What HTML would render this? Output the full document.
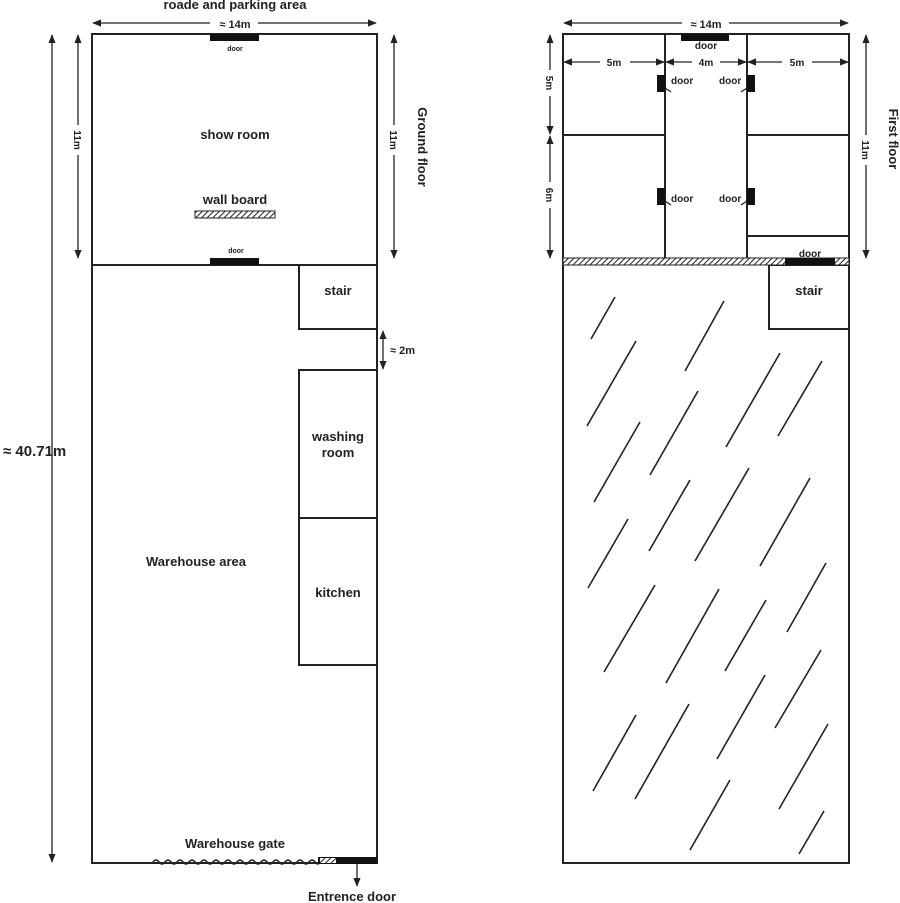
<!DOCTYPE html>
<html><head><meta charset="utf-8"><style>
html,body{margin:0;padding:0;background:#fff;width:900px;height:903px;overflow:hidden}
text{font-family:"Liberation Sans",Arial,sans-serif;font-weight:bold;fill:#222}
</style></head><body>
<svg width="900" height="903" viewBox="0 0 900 903" xmlns="http://www.w3.org/2000/svg">
<defs>
<marker id="a" viewBox="0 0 10 10" refX="9" refY="5" markerWidth="7" markerHeight="7" orient="auto-start-reverse"><path d="M0,1 L10,5 L0,9 Z" fill="#222"/></marker>
<pattern id="h" width="4" height="4" patternUnits="userSpaceOnUse" patternTransform="rotate(45)"><rect width="4" height="4" fill="#fff"/><line x1="0" y1="0" x2="0" y2="4" stroke="#222" stroke-width="2"/></pattern>
</defs>
<g stroke="#222" stroke-width="2" fill="none">
<!-- left building -->
<rect x="92" y="34" width="285" height="829"/>
<line x1="92" y1="265" x2="377" y2="265"/>
<rect x="299" y="265" width="78" height="64"/>
<rect x="299" y="370" width="78" height="148"/>
<rect x="299" y="518" width="78" height="147"/>
<!-- right building -->
<rect x="563" y="34" width="286" height="829"/>
<line x1="665" y1="34" x2="665" y2="258"/>
<line x1="747" y1="34" x2="747" y2="258"/>
<line x1="563" y1="135" x2="665" y2="135"/>
<line x1="747" y1="135" x2="849" y2="135"/>
<line x1="747" y1="236" x2="849" y2="236"/>
<rect x="769" y="265" width="80" height="64"/>
</g>
<!-- doors/left -->
<rect x="210" y="34" width="49" height="7" fill="#111"/>
<rect x="210" y="258" width="49" height="7" fill="#111"/>
<rect x="195" y="211" width="80" height="7" fill="url(#h)" stroke="#222" stroke-width="1"/>
<!-- right doors -->
<rect x="681" y="34" width="48" height="7" fill="#111"/>
<rect x="563" y="258" width="286" height="7" fill="url(#h)" stroke="#222" stroke-width="1"/>
<rect x="785" y="258" width="50" height="7" fill="#111"/>
<g fill="#111">
<rect x="657" y="75" width="8" height="17"/><rect x="657" y="188" width="8" height="17"/>
<rect x="747" y="75" width="8" height="17"/><rect x="747" y="188" width="8" height="17"/>
</g>
<g stroke="#222" stroke-width="1.2">
<line x1="665" y1="88" x2="671" y2="92"/><line x1="665" y1="201" x2="671" y2="205"/>
<line x1="747" y1="88" x2="741" y2="92"/><line x1="747" y1="201" x2="741" y2="205"/>
</g>
<!-- gate -->
<path d="M153,862 q3,-4 6,0 t6,0 t6,0 t6,0 t6,0 t6,0 t6,0 t6,0 t6,0 t6,0 t6,0 t6,0 t6,0 t6,0 t6,0 t6,0 t6,0 t6,0 t6,0 t6,0 t6,0 t6,0 t6,0 t6,0 t6,0 t6,0 t6,0 t5,0" stroke="#222" stroke-width="1.5" fill="none"/>
<rect x="318" y="857" width="59" height="7" fill="#111"/>
<rect x="320" y="858" width="16" height="5" fill="url(#h)"/>
<line x1="92" y1="863" x2="153" y2="863" stroke="#222" stroke-width="2"/>
<!-- dims -->
<g stroke="#222" stroke-width="1.3" marker-start="url(#a)" marker-end="url(#a)">
<line x1="93" y1="23" x2="210" y2="23" marker-start="url(#a)" marker-end="none"/>
<line x1="258" y1="23" x2="376" y2="23" marker-start="none"/>
<line x1="52" y1="35" x2="52" y2="862"/>
<line x1="78" y1="35" x2="78" y2="258"/>
<line x1="394" y1="35" x2="394" y2="258"/>
<line x1="383" y1="331" x2="383" y2="369"/>
<line x1="357" y1="864" x2="357" y2="886" marker-start="none"/>
<line x1="564" y1="23" x2="682" y2="23" marker-start="url(#a)" marker-end="none"/>
<line x1="729" y1="23" x2="848" y2="23" marker-start="none"/>
<line x1="866" y1="35" x2="866" y2="258"/>
<line x1="550" y1="35" x2="550" y2="134"/>
<line x1="550" y1="136" x2="550" y2="258"/>
<line x1="564" y1="62" x2="664" y2="62"/>
<line x1="666" y1="62" x2="746" y2="62"/>
<line x1="748" y1="62" x2="848" y2="62"/>
</g>
<!-- white label backgrounds on dim lines -->
<g fill="#fff">
<rect x="40" y="120" width="30" height="0"/>
<rect x="72" y="125" width="12" height="30"/><rect x="388" y="125" width="12" height="30"/>
<rect x="544" y="70" width="12" height="26"/><rect x="544" y="182" width="12" height="26"/>
<rect x="860" y="135" width="12" height="30"/>
<rect x="600" y="56" width="30" height="12"/><rect x="692" y="56" width="28" height="12"/><rect x="782" y="56" width="30" height="12"/>
</g>
<!-- horizontal wide arrows hidden gap for labels -->
<rect x="212" y="17" width="46" height="12" fill="#fff"/>
<rect x="684" y="17" width="45" height="12" fill="#fff"/>
<!-- diagonals -->
<g stroke="#222" stroke-width="1.6">
<line x1="615" y1="297" x2="591" y2="339"/><line x1="724" y1="301" x2="685" y2="371"/>
<line x1="636" y1="341" x2="587" y2="426"/><line x1="780" y1="353" x2="726" y2="447"/>
<line x1="822" y1="361" x2="778" y2="436"/><line x1="698" y1="391" x2="650" y2="475"/>
<line x1="640" y1="422" x2="594" y2="502"/><line x1="749" y1="468" x2="695" y2="561"/>
<line x1="810" y1="478" x2="760" y2="566"/><line x1="690" y1="480" x2="649" y2="551"/>
<line x1="628" y1="519" x2="588" y2="588"/><line x1="826" y1="563" x2="787" y2="632"/>
<line x1="655" y1="585" x2="604" y2="672"/><line x1="719" y1="589" x2="666" y2="683"/>
<line x1="766" y1="600" x2="725" y2="671"/><line x1="821" y1="650" x2="775" y2="728"/>
<line x1="765" y1="675" x2="717" y2="759"/><line x1="636" y1="715" x2="593" y2="791"/>
<line x1="689" y1="704" x2="635" y2="799"/><line x1="828" y1="724" x2="779" y2="809"/>
<line x1="730" y1="780" x2="690" y2="850"/><line x1="824" y1="811" x2="799" y2="854"/>
</g>
<!-- text -->
<text x="235" y="9" font-size="13" text-anchor="middle">roade and parking area</text>
<text x="235" y="28" font-size="11" text-anchor="middle">≈ 14m</text>
<text x="706" y="28" font-size="11" text-anchor="middle">≈ 14m</text>
<text x="235" y="51" font-size="7" text-anchor="middle">door</text>
<text x="236" y="253" font-size="7" text-anchor="middle">door</text>
<text x="235" y="139" font-size="13" text-anchor="middle">show room</text>
<text x="235" y="204" font-size="13" text-anchor="middle">wall board</text>
<text x="338" y="295" font-size="13" text-anchor="middle">stair</text>
<text x="809" y="295" font-size="13" text-anchor="middle">stair</text>
<text x="338" y="441" font-size="13" text-anchor="middle">washing</text>
<text x="338" y="457" font-size="13" text-anchor="middle">room</text>
<text x="338" y="597" font-size="13" text-anchor="middle">kitchen</text>
<text x="196" y="566" font-size="13" text-anchor="middle">Warehouse area</text>
<text x="235" y="848" font-size="13" text-anchor="middle">Warehouse gate</text>
<text x="352" y="901" font-size="13" text-anchor="middle">Entrence door</text>
<text x="3" y="456" font-size="15">≈ 40.71m</text>
<text x="390" y="354" font-size="11">≈ 2m</text>
<text x="706" y="49" font-size="10" text-anchor="middle">door</text>
<text x="810" y="257" font-size="10" text-anchor="middle">door</text>
<text x="671" y="84" font-size="10">door</text><text x="719" y="84" font-size="10">door</text>
<text x="671" y="202" font-size="10">door</text><text x="719" y="202" font-size="10">door</text>
<text x="614" y="66" font-size="10" text-anchor="middle">5m</text>
<text x="706" y="66" font-size="10" text-anchor="middle">4m</text>
<text x="797" y="66" font-size="10" text-anchor="middle">5m</text>
<text transform="translate(74,140) rotate(90)" font-size="10" text-anchor="middle">11m</text>
<text transform="translate(390,140) rotate(90)" font-size="10" text-anchor="middle">11m</text>
<text transform="translate(862,150) rotate(90)" font-size="10" text-anchor="middle">11m</text>
<text transform="translate(546,83) rotate(90)" font-size="10" text-anchor="middle">5m</text>
<text transform="translate(546,195) rotate(90)" font-size="10" text-anchor="middle">6m</text>
<text transform="translate(418,147) rotate(90)" font-size="13" text-anchor="middle">Ground floor</text>
<text transform="translate(889,139) rotate(90)" font-size="13" text-anchor="middle">First  floor</text>
</svg>
</body></html>
